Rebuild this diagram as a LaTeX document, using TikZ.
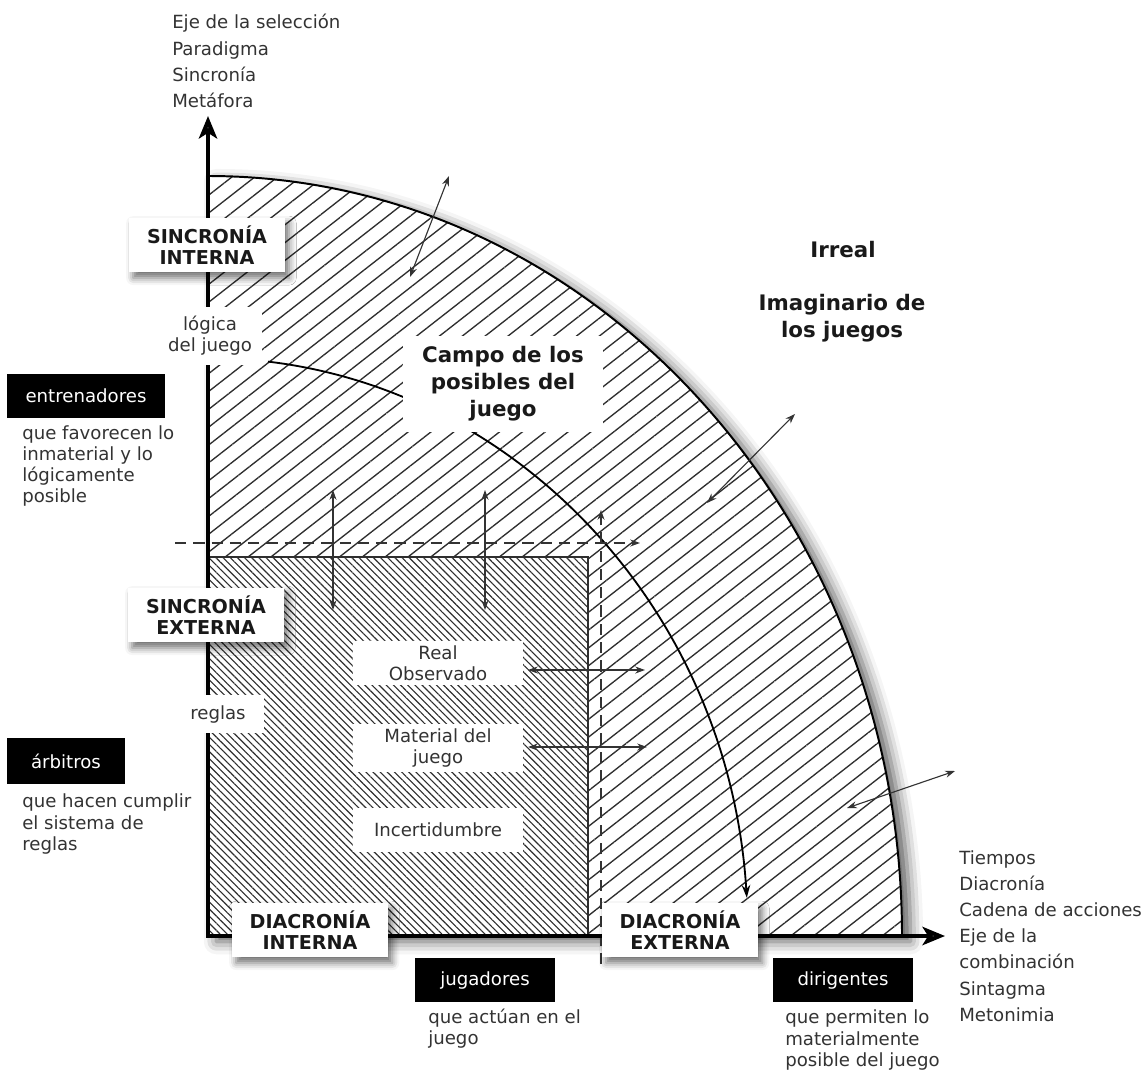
\documentclass[tikz,border=0pt]{standalone}
\usepackage{fontspec}
\setmainfont{DejaVu Sans}
\usepackage{tikz}
\usepackage{xcolor}
\usetikzlibrary{arrows.meta,calc,patterns.meta,shadows.blur}
\definecolor{tinta}{HTML}{333333}
\definecolor{rayado}{HTML}{2E2E2E}
\newcommand\notafont{\fontsize{12.9pt}{15pt}\selectfont}
\newcommand\ejefont{\fontsize{12.9pt}{18.6pt}\selectfont}
\newcommand\titulofont{\fontsize{13.6pt}{15pt}\selectfont\bfseries}
\newcommand\grandefont{\fontsize{15.2pt}{19.2pt}\selectfont\bfseries}
\tikzstyle{titulo} =
  [ rectangle
  , fill=white
  , text=black!90
  , font=\titulofont
  , align=center
  , minimum width=3.9cm
  , minimum height=1.37cm
  , blur shadow={shadow xshift=3pt,shadow yshift=-4pt,shadow blur radius=5pt,shadow opacity=55}
  ]
\tikzstyle{rol} =
  [ rectangle
  , fill=black
  , text=white
  , font=\notafont
  , minimum width=3.5cm
  , minimum height=1.12cm
  ]
\tikzstyle{hueco} =
  [ rectangle
  , fill=white
  , text=tinta
  , font=\notafont
  , align=center
  , minimum width=4.25cm
  , minimum height=1.1cm
  ]
\tikzstyle{nota} =
  [ text=tinta
  , font=\notafont
  , align=left
  , inner sep=0pt
  , anchor=west
  ]
\tikzstyle{lista} = [nota, font=\ejefont]
\tikzstyle{grande} =
  [ text=black!90
  , font=\grandefont
  , align=center
  ]
\tikzstyle{rayas_gruesas} = [pattern={Lines[angle=38,distance=10pt,line width=0.95pt]}, pattern color=rayado]
\tikzstyle{rayas_finas}   = [pattern={Lines[angle=-45,distance=3.6pt,line width=0.8pt]}, pattern color=rayado]
\tikzstyle{doble}  = [{Stealth[length=7pt,width=5pt]}-{Stealth[length=7pt,width=5pt]}, line width=0.8pt, tinta]
\tikzstyle{limite} = [-{Stealth[length=7pt,width=5pt]}, dash pattern=on 8pt off 5pt, line width=0.9pt, tinta]
\tikzstyle{eje}    = [{Stealth[length=16pt,width=13pt,inset=4pt]}-{Stealth[length=16pt,width=13pt,inset=4pt]}, line width=2.8pt]
\def\EjeSeleccion{Eje de la selección\\Paradigma\\Sincronía\\Metáfora}
\def\EjeCombinacion{Tiempos\\Diacronía\\Cadena de acciones\\Eje de la\\combinación\\Sintagma\\Metonimia}
\def\CampoPosibles{Campo de los\\posibles del\\juego}
\begin{document}
\begin{tikzpicture}[x=0.025cm,y=-0.025cm]
    \useasboundingbox (0,0) rectangle (1148,1072);
    \coordinate (origen)  at (208,936);
    \coordinate (cima)    at (208,176);
    \coordinate (esquina) at (588,557);
    \coordinate (eje_y)   at (208,116);
    \coordinate (eje_x)   at (945,936);

    % Imaginario: the big quarter ellipse
    \path[blur shadow={shadow xshift=6pt,shadow yshift=-4pt,shadow blur radius=9pt,shadow opacity=65},
          preaction={fill=white}, rayas_gruesas]
      (origen) -- (cima) arc[start angle=-90,end angle=0,x radius=694,y radius=760] -- cycle;
    \draw[line width=1.4pt] (cima) arc[start angle=-90,end angle=0,x radius=694,y radius=760];

    % Real observado: the small square
    \path[preaction={fill=white}, rayas_finas] (origen) rectangle (esquina);
    \draw[line width=1pt,rayado] (origen |- esquina) -- (esquina) -- (esquina |- origen);

    % logica del juego
    \coordinate (logica_ini) at ({208+540*cos(83.62)},{936-578*sin(83.62)});
    \draw[line width=1.3pt,-{Stealth[length=9pt,width=6pt]}]
      (logica_ini) arc[start angle=-83.62,end angle=-3.8,x radius=540,y radius=578];

    \coordinate (borde_izq)  at (175,543);
    \coordinate (borde_der)  at (640,543);
    \coordinate (borde_bajo) at (601,964);
    \coordinate (borde_alto) at (601,510);
    \draw[limite] (borde_izq) -- (borde_der);
    \draw[limite] (borde_bajo) -- (borde_alto);

    \foreach \n/\ax/\ay/\bx/\by in {v_izq/333/610/333/490, v_der/485/610/485/490,
        h_real/528/670/645/670, h_material/528/747/647/747,
        d_alto/410/277/449/176, d_medio/707/503/795/414, d_bajo/847/808/955/771}
      \draw[doble] (\ax,\ay) coordinate (\n_a) -- (\bx,\by) coordinate (\n_b);

    \draw[eje] (eje_y) -- (origen) -- (eje_x);

    % labels on the field
    \node[hueco, minimum width=2.6cm, minimum height=1.43cm] (logica) at (210,336) {lógica\\del juego};
    \node[hueco, font=\grandefont, text=black!90, minimum width=5cm, minimum height=2.4cm] (campo_posibles) at (503,384) {\CampoPosibles};
    \node[hueco] (real)          at (438,663) {Real\\Observado};
    \node[hueco] (material)      at (438,748) {Material del\\juego};
    \node[hueco] (incertidumbre) at (438,830) {Incertidumbre};
    \node[hueco, minimum width=2.3cm, minimum height=0.95cm] (reglas) at (218,714) {reglas};

    \node[grande] (irreal)     at (843,250) {Irreal};
    \node[grande] (imaginario) at (842,318) {Imaginario de\\los juegos};

    % axis titles
    \node[titulo] (sincronia_interna) at (207,245) {SINCRONÍA\\INTERNA};
    \node[titulo] (sincronia_externa) at (206,615) {SINCRONÍA\\EXTERNA};
    \node[titulo] (diacronia_interna) at (310,930) {DIACRONÍA\\INTERNA};
    \node[titulo] (diacronia_externa) at (680,930) {DIACRONÍA\\EXTERNA};

    \node[lista] (eje_seleccion)   at (172,61)  {\EjeSeleccion};
    \node[lista] (eje_combinacion) at (959,936) {\EjeCombinacion};

    % actors
    \node[rol, minimum width=3.97cm]  (entrenadores) at (86,396)  {entrenadores};
    \node[nota] (entrenadores_txt) at (22,466)  {que favorecen lo\\inmaterial y lo\\lógicamente\\posible};
    \node[rol, minimum width=2.95cm, minimum height=1.17cm] (arbitros) at (66,761) {árbitros};
    \node[nota] (arbitros_txt)     at (22,824)  {que hacen cumplir\\el sistema de\\reglas};
    \node[rol] (jugadores)  at (485,980) {jugadores};
    \node[nota] (jugadores_txt)    at (428,1029) {que actúan en el\\juego};
    \node[rol] (dirigentes) at (843,980) {dirigentes};
    \node[nota] (dirigentes_txt)   at (785,1040) {que permiten lo\\materialmente\\posible del juego};
\end{tikzpicture}
\end{document}
